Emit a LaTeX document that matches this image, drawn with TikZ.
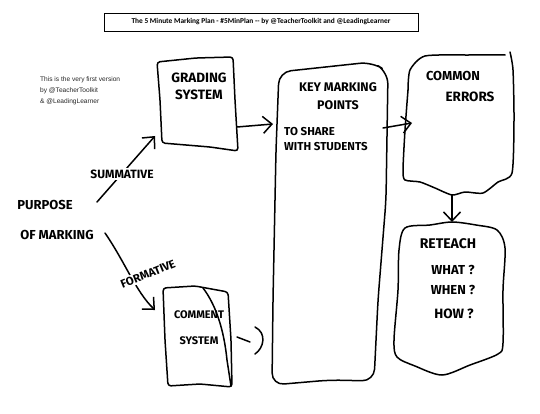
\documentclass[tikz,border=0pt]{standalone}
\usepackage{fontspec}
\setmainfont{Liberation Sans}
\newfontfamily\titlefont{Carlito}
\newfontfamily\hand{Fira Sans}
\usetikzlibrary{arrows.meta}
\begin{document}
\begin{tikzpicture}[x=1pt,y=-1pt,
  ink/.style={line width=1.5pt, line join=round, line cap=round, black},
  conn/.style={ink, -{Straight Barb[length=9pt,width=17pt,line width=1.5pt]}},
  hw/.style={inner sep=0pt, align=center},
  lbl/.style={fill=white, inner sep=1.5pt}]
\useasboundingbox (0,0) rectangle (540,414);
% title
\node[draw, line width=0.6pt, minimum width=314pt, minimum height=18pt, inner sep=0pt,
      font=\titlefont\bfseries\fontsize{7.4}{8}\selectfont] (title) at (261,22)
  {The 5 Minute Marking Plan - \#5MinPlan -- by @TeacherToolkit and @LeadingLearner};
% note
\node[anchor=north west, align=left, inner sep=0pt, text=black!85,
      font=\fontsize{6.6}{10.6}\selectfont] (note) at (40,77)
  {This is the very first version\\by @TeacherToolkit\\\& @LeadingLearner};

% ---------- boxes (hand drawn outlines) ----------
% grading system
\draw[ink, rounded corners=3pt] (157,62) -- (196,58) -- (233,57) -- (235,100) -- (238,151)
  -- (210,147) -- (162,143) -- (160,100) -- cycle;
\node[hw, font=\hand\bfseries\fontsize{13.5}{17}\selectfont] (grading) at (199,86) {GRADING\\SYSTEM};

% key marking points
\draw[ink, rounded corners=12pt] (279,72) -- (372,62) -- (388,72) -- (386,200) -- (378,300)
  -- (374,381) -- (330,380) -- (272,385) -- (273,300) -- (276,150) -- cycle;
\node[hw, font=\hand\bfseries\fontsize{12.5}{18}\selectfont] (keyA) at (338,96) {KEY MARKING\\POINTS};
\node[hw, align=left, anchor=west, font=\hand\bfseries\fontsize{11.5}{15}\selectfont] (keyB) at (284,139)
  {TO SHARE\\WITH STUDENTS};

% common errors
\draw[ink] plot[smooth, tension=0.4] coordinates {(408,90) (410,70) (425,56) (470,55) (505,55)};
\draw[ink] plot[smooth, tension=0.4] coordinates {(510,52) (513,70) (514,120) (512,173)
  (498,182) (483,193) (465,192) (452,195) (435,188) (420,182) (405,180) (403,170) (405,130) (408,90)};
\node[hw, font=\hand\bfseries\fontsize{13}{16}\selectfont] (commonA) at (453,76) {COMMON};
\node[hw, font=\hand\bfseries\fontsize{13.5}{16}\selectfont] (commonB) at (470,97) {ERRORS};

% reteach
\draw[ink] plot[smooth cycle, tension=0.5] coordinates {(405,228) (430,225) (452,222) (476,225)
  (497,230) (505,248) (503,290) (503,343) (498,354) (470,365) (442,375) (415,366) (397,357)
  (394,340) (398,290) (399,250)};
\node[hw, font=\hand\bfseries\fontsize{14}{16}\selectfont] (reteach) at (448,244) {RETEACH};
\node[hw, font=\hand\bfseries\fontsize{13}{16}\selectfont] (what) at (453,270) {WHAT ?};
\node[hw, font=\hand\bfseries\fontsize{13}{16}\selectfont] (when) at (453,290) {WHEN ?};
\node[hw, font=\hand\bfseries\fontsize{13.5}{16}\selectfont] (how) at (454,314) {HOW ?};

% comment system
\draw[ink, rounded corners=3pt] (163,288) -- (195,286) -- (228,292) -- (231,340) -- (232,387)
  -- (200,384) -- (168,386) -- (165,340) -- cycle;
\draw[ink] (203,288) .. controls (216,305) and (224,330) .. (227,360) -- (231,386);
\node[hw, font=\hand\bfseries\fontsize{11}{26}\selectfont] (comment) at (199,328) {COMMENT\\SYSTEM};

% purpose
\node[hw, font=\hand\bfseries\fontsize{13}{16}\selectfont] (purpose) at (45,205) {PURPOSE};
\node[hw, font=\hand\bfseries\fontsize{13}{16}\selectfont] (ofmarking) at (57,235) {OF MARKING};

% ---------- connectors ----------
\coordinate (sumS) at (97,202);
\coordinate (sumE) at (155,136);
\draw[conn] (sumS) -- (sumE);
\node[lbl, font=\hand\bfseries\fontsize{12}{14}\selectfont] (summative) at (122,174) {SUMMATIVE};

\coordinate (forS) at (105,233);
\coordinate (forE) at (155,310);
\draw[conn] (forS) .. controls (125,262) and (136,292) .. (forE);
\node[lbl, rotate=22, font=\hand\bfseries\fontsize{11.5}{14}\selectfont] (formative) at (148,274) {FORMATIVE};

\coordinate (gOut) at (237,127);
\coordinate (kIn) at (273,124);
\draw[conn] (gOut) -- (kIn);

\coordinate (kOut) at (383,128);
\coordinate (cIn) at (412,123);
\draw[conn] (kOut) -- (cIn);

\coordinate (cOut) at (452,195);
\coordinate (rIn) at (452,222);
\draw[conn] (cOut) -- (rIn);

% the unfinished link from comment system
\coordinate (dashS) at (237,337);
\coordinate (dashE) at (250,342);
\draw[ink] (dashS) -- (dashE);
\draw[ink] (255,327) .. controls (267,333) and (264,348) .. (255,354);
\end{tikzpicture}
\end{document}
